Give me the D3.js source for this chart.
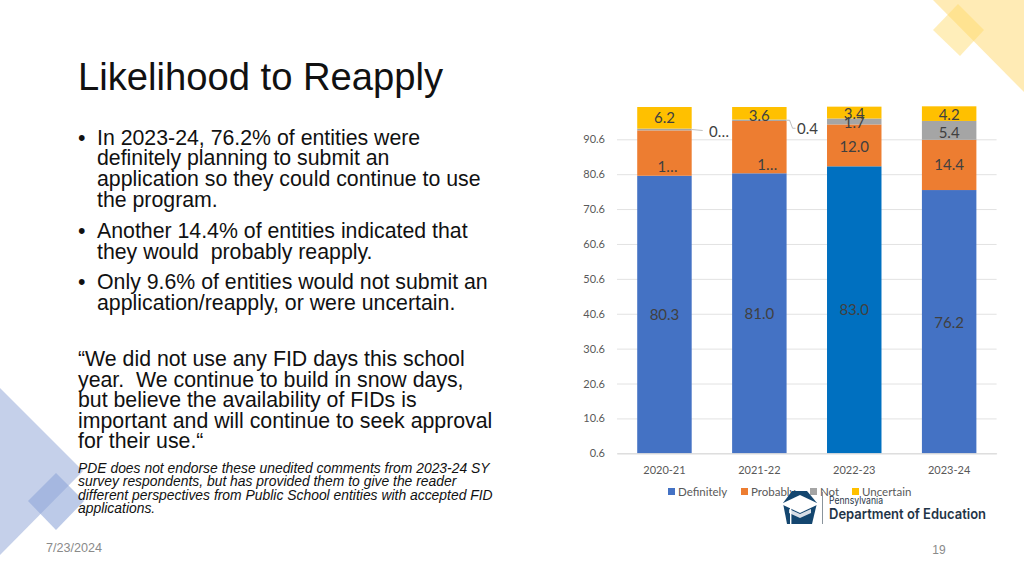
<!DOCTYPE html>
<html>
<head>
<meta charset="utf-8">
<script src="https://cdn.jsdelivr.net/npm/d3@7"></script>
<style>
  html, body { margin: 0; padding: 0; background: #fff; }
  svg { display: block; }
</style>
</head>
<body>
<svg id="slide" width="1024" height="576"></svg>
<script>
// chart values
const years = ["2020-21", "2021-22", "2022-23", "2023-24"];
const keys = ["Definitely", "Probably", "Not", "Uncertain"];
const definitely = [80.3, 81.0, 83.0, 76.2];
const probably = [13.0, 15.0, 12.0, 14.4];
const notApply = [0.5, 0.4, 1.7, 5.4];
const uncertain = [6.2, 3.6, 3.4, 4.2];
const yTicks = [0.6, 10.6, 20.6, 30.6, 40.6, 50.6, 60.6, 70.6, 80.6, 90.6];

// slide text
const bullets = [
  ["In 2023-24, 76.2% of entities were", "definitely planning to submit an", "application so they could continue to use", "the program."],
  ["Another 14.4% of entities indicated that", "they would  probably reapply."],
  ["Only 9.6% of entities would not submit an", "application/reapply, or were uncertain."]
];
const quote = ["\u201CWe did not use any FID days this school", "year.  We continue to build in snow days,", "but believe the availability of FIDs is", "important and will continue to seek approval", "for their use.\u201C"];
const note = ["PDE does not endorse these unedited comments from 2023-24 SY", "survey respondents, but has provided them to give the reader", "different perspectives from Public School entities with accepted FID", "applications."];

const colors = d3.scaleOrdinal().domain(keys).range(["#4472C4", "#ED7D31", "#A5A5A5", "#FFC000"]);
const svg = d3.select("#slide");

// background shapes
svg.append("polygon").attr("points", "933,0 1024,0 1024,92").attr("fill", "#FFEBB5");
svg.append("polygon").attr("points", "958,4 984,30 960,56 933,30").attr("fill", "#FFD966").attr("opacity", 0.45);
svg.append("polygon").attr("points", "0,388 83,471 0,555").attr("fill", "#C5D0EA");
svg.append("polygon").attr("points", "56,473 84,501 56,530 28,501").attr("fill", "#8FA6D9").attr("opacity", 0.6);

// title and text
svg.append("text").attr("x", 78).attr("y", 90).attr("font-family", "Liberation Sans").attr("font-size", 38.2).attr("fill", "#111").text("Likelihood to Reapply");

const textFont = "Liberation Sans";
let y = 144.5;
bullets.forEach(b => {
  svg.append("text").attr("x", 78).attr("y", y).attr("font-family", textFont).attr("font-size", 21.3).attr("fill", "#111").text("\u2022");
  b.forEach(line => {
    svg.append("text").attr("x", 97).attr("y", y).attr("xml:space", "preserve").attr("font-family", textFont).attr("font-size", 21.3).attr("fill", "#111").text(line);
    y += 20.8;
  });
  y += 10;
});
quote.forEach((line, i) => {
  svg.append("text").attr("x", 78).attr("y", 366 + i * 20.6).attr("xml:space", "preserve").attr("font-family", textFont).attr("font-size", 21.3).attr("fill", "#111").text(line);
});
note.forEach((line, i) => {
  svg.append("text").attr("x", 78).attr("y", 473 + i * 13.3).attr("font-family", textFont).attr("font-size", 13.9).attr("font-style", "italic").attr("fill", "#111").text(line);
});
svg.append("text").attr("x", 46).attr("y", 552).attr("font-family", textFont).attr("font-size", 12.6).attr("fill", "#8a8a8a").text("7/23/2024");
svg.append("text").attr("x", 939).attr("y", 554).attr("text-anchor", "middle").attr("font-family", textFont).attr("font-size", 12).attr("fill", "#8a8a8a").text("19");

// chart
const table = years.map((year, i) => ({
  year, Definitely: definitely[i], Probably: probably[i], Not: notApply[i], Uncertain: uncertain[i]
}));
const series = d3.stack().keys(keys)(table);

const xScale = d3.scaleBand().domain(years).range([617, 996.6]).paddingInner(0.426).paddingOuter(0.213);
const yScale = d3.scaleLinear().domain([0.6, 90.6]).range([453.3, 139.3]);
const barY = v => Math.min(yScale(v) + 0.5, yScale(0.6)); // bars stop at the axis
const chartFont = "Lato";

// y axis labels and gridlines
const yAxis = svg.append("g").attr("transform", "translate(617,0)")
  .call(d3.axisLeft(yScale).tickValues(yTicks).tickFormat(d3.format(".1f")).tickSize(-379.6).tickPadding(12));
yAxis.select(".domain").remove();
yAxis.selectAll("line").attr("stroke", "#E2E2E2").attr("stroke-width", 1);
yAxis.selectAll("text").attr("font-family", chartFont).attr("font-size", 11).attr("fill", "#595959");

// bars, 2022-23 blue differs in the source
svg.append("g").selectAll("g").data(series).join("g")
  .selectAll("rect").data(s => s.map(d => ({ key: s.key, d }))).join("rect")
  .attr("x", r => xScale(r.d.data.year))
  .attr("width", xScale.bandwidth())
  .attr("y", r => barY(r.d[1]))
  .attr("height", r => barY(r.d[0]) - barY(r.d[1]))
  .attr("fill", r => (r.key === "Definitely" && r.d.data.year === "2022-23") ? "#0070C0" : colors(r.key));

// x axis
const xAxis = svg.append("g").attr("transform", "translate(0,453.3)")
  .call(d3.axisBottom(xScale).tickSize(0).tickPadding(13));
xAxis.select(".domain").attr("stroke", "#D9D9D9");
xAxis.selectAll("text").attr("font-family", chartFont).attr("font-size", 11).attr("fill", "#595959");

// data labels: [series, year] => shown text and nudge from the segment centre
const shown = { "Probably|2020-21": "1\u2026", "Probably|2021-22": "1\u2026" };
const nudge = {
  "Probably|2020-21": [3, 14], "Probably|2021-22": [8, 18], "Probably|2022-23": [0, 1],
  "Uncertain|2021-22": [0, 2], "Uncertain|2022-23": [0, 1], "Not|2022-23": [0, 1],
  "Uncertain|2023-24": [0, 1], "Not|2023-24": [0, 2], "Definitely|2023-24": [0, 1]
};
series.forEach(s => {
  s.forEach(d => {
    const id = s.key + "|" + d.data.year;
    if (s.key === "Not" && d.data.year < "2022") return; // drawn outside the bar below
    const n = nudge[id] || [0, 0];
    svg.append("text")
      .attr("x", xScale(d.data.year) + xScale.bandwidth() / 2 + n[0])
      .attr("y", (barY(d[0]) + barY(d[1])) / 2 + n[1])
      .attr("dy", "0.35em")
      .attr("text-anchor", "middle")
      .attr("font-family", chartFont)
      .attr("font-size", 15)
      .attr("fill", "#404040")
      .text(shown[id] || d3.format(".1f")(d[1] - d[0]));
  });
});

// outside labels for the thin segments, with leader lines
const notSeries = series[2];
[["0\u2026", 0, 132, 709], ["0.4", 1, 129, 797]].forEach(o => {
  const d = notSeries[o[1]];
  const barEnd = xScale(d.data.year) + xScale.bandwidth();
  const yMid = barY((d[0] + d[1]) / 2);
  svg.append("path").attr("fill", "none").attr("stroke", "#BFBFBF")
    .attr("d", d3.line()(o[1]
      ? [[barEnd, yMid], [barEnd + 3, yMid], [barEnd + 6, yMid + 8], [barEnd + 9, yMid + 8]]
      : [[barEnd, yMid], [barEnd + 11, yMid + 1]]));
  svg.append("text").attr("x", o[3]).attr("y", o[2]).attr("dy", "0.35em")
    .attr("font-family", chartFont).attr("font-size", 15).attr("fill", "#404040").text(o[0]);
});

// legend
const legendX = d3.scaleOrdinal().domain(keys).range([668, 741, 810, 852]);
const legend = svg.append("g").selectAll("g").data(keys).join("g")
  .attr("transform", k => `translate(${legendX(k)},488)`);
legend.append("rect").attr("width", 7).attr("height", 7).attr("fill", k => colors(k));
legend.append("text").attr("x", 10).attr("y", 8).attr("font-family", chartFont).attr("font-size", 11.5).attr("fill", "#595959").text(k => k);

// PA Department of Education logo
const logo = svg.append("g");
logo.append("path").attr("d", "M792,491 H807 L817,503 L812,524 H787 L783,503 Z").attr("fill", "#14466F");
logo.append("path").attr("d", "M800,495 L819,504 L800,513 L781,504 Z").attr("fill", "#fff");
logo.append("path").attr("d", "M789,509 L800,514 L811,509 V513 L800,518 L789,513 Z").attr("fill", "#D8DEE6");
logo.append("rect").attr("x", 790).attr("y", 505).attr("width", 1.4).attr("height", 19).attr("fill", "#fff");
logo.append("rect").attr("x", 822).attr("y", 492).attr("width", 1).attr("height", 32).attr("fill", "#8A949C");
logo.append("text").attr("x", 829).attr("y", 504).attr("font-family", "Inter").attr("font-size", 10.5).attr("textLength", 54).attr("lengthAdjust", "spacingAndGlyphs").attr("fill", "#1F3447").text("Pennsylvania");
logo.append("text").attr("x", 829).attr("y", 519).attr("font-family", "Inter").attr("font-size", 14.5).attr("font-weight", 600).attr("textLength", 157).attr("lengthAdjust", "spacingAndGlyphs").attr("fill", "#1F3447").text("Department of Education");
</script>
</body>
</html>
